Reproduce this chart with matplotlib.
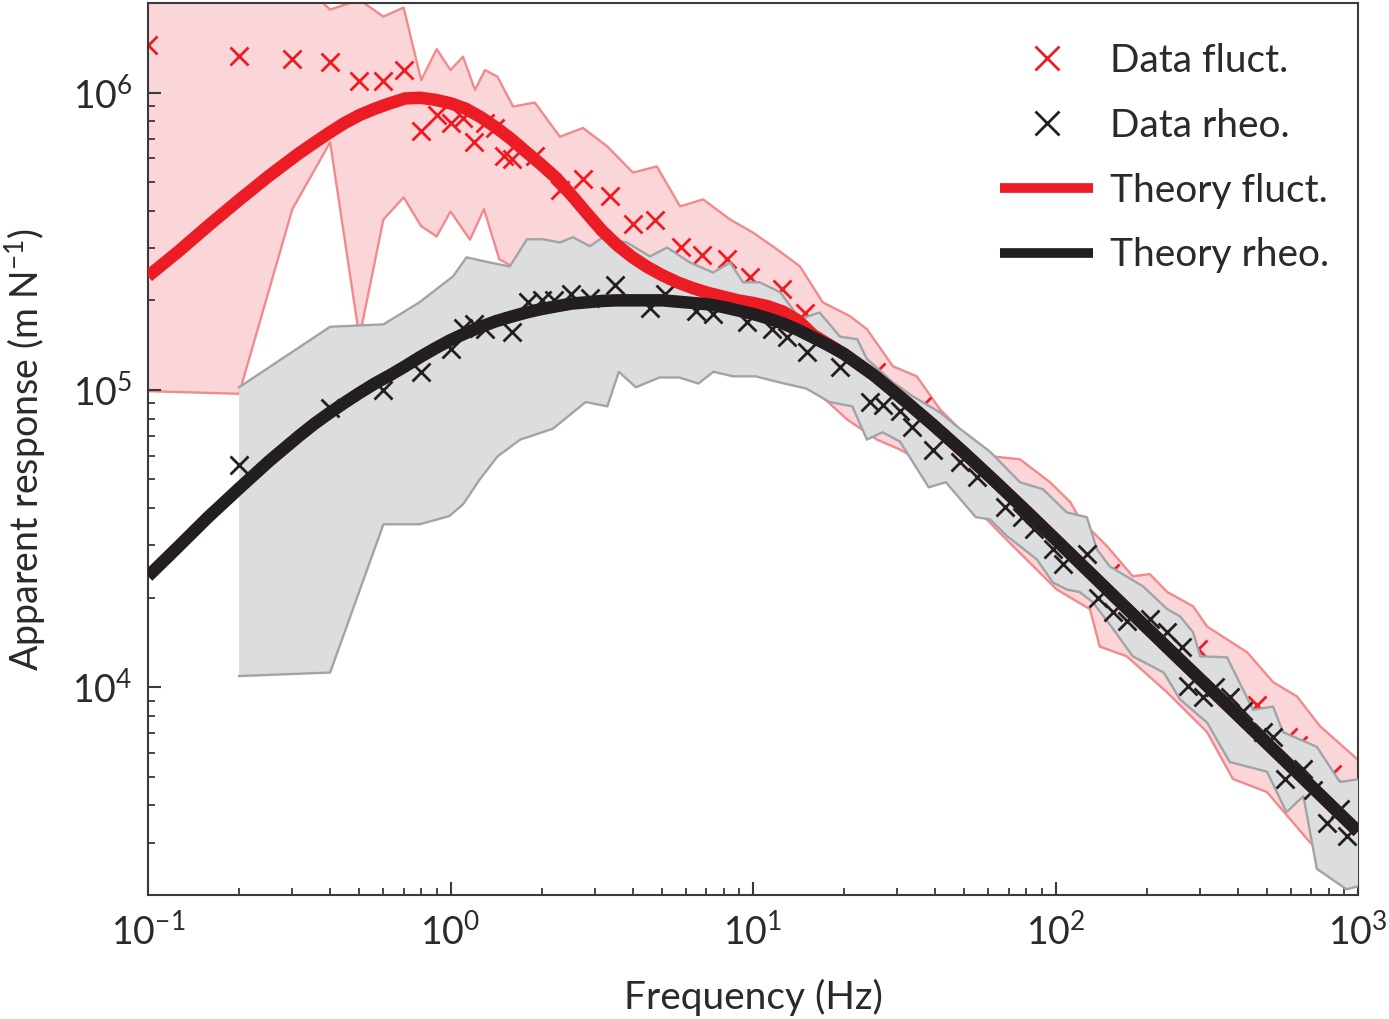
import matplotlib
matplotlib.use('Agg')
import matplotlib.pyplot as plt
import numpy as np
from matplotlib.lines import Line2D
from matplotlib.ticker import LogLocator, NullFormatter

plt.rcParams['font.family'] = ['Lato', 'DejaVu Sans']
plt.rcParams['mathtext.fontset'] = 'custom'
plt.rcParams['mathtext.rm'] = 'Lato'
plt.rcParams['mathtext.it'] = 'Lato:italic'
plt.rcParams['mathtext.bf'] = 'Lato:bold'
plt.rcParams['mathtext.sf'] = 'Lato'

# ---------------- data ----------------
fluct_freq = [0.1, 0.2, 0.3, 0.4, 0.5, 0.6, 0.7, 0.8, 0.9, 1.0,
              1.1, 1.2, 1.3, 1.4, 1.5, 1.6, 1.9, 2.3, 2.74, 3.37,
              4.0, 4.74, 5.8, 6.8, 8.2, 9.8, 12.5, 14.9, 25.5, 36.2,
              75, 151, 296, 332, 464, 587, 634, 820]
fluct_resp = [1.45e6, 1.33e6, 1.30e6, 1.27e6, 1.09e6, 1.09e6, 1.19e6, 7.4e5, 8.4e5, 7.9e5,
              8.2e5, 6.8e5, 7.9e5, 7.6e5, 6.1e5, 5.96e5, 6.1e5, 4.7e5, 5.1e5, 4.47e5,
              3.6e5, 3.74e5, 3.03e5, 2.85e5, 2.75e5, 2.39e5, 2.18e5, 1.82e5, 1.15e5, 8.8e4,
              4.5e4, 2.42e4, 1.34e4, 1.18e4, 8.7e3, 6.8e3, 6.4e3, 5.1e3]

rheo_freq = [0.2, 0.4, 0.6, 0.8, 1.0, 1.1, 1.2, 1.3, 1.6, 1.8,
             2.0, 2.2, 2.5, 2.9, 3.5, 4.57, 5.1, 6.5, 7.4, 9.55,
             11.6, 13, 15.1, 19.4, 24.4, 26.8, 30.6, 33.6, 39.4, 48.3,
             55, 68, 77.5, 85, 98, 106, 127, 138, 155, 172,
             205, 234, 262, 274, 307, 337, 378, 417, 486, 524,
             574, 658, 710, 790, 871, 920]
rheo_resp = [5.6e4, 8.7e4, 1.0e5, 1.15e5, 1.37e5, 1.62e5, 1.66e5, 1.6e5, 1.57e5, 1.97e5,
             2.0e5, 2.0e5, 2.1e5, 2.03e5, 2.26e5, 1.89e5, 2.1e5, 1.84e5, 1.8e5, 1.69e5,
             1.6e5, 1.51e5, 1.34e5, 1.19e5, 9.1e4, 8.9e4, 8.5e4, 7.5e4, 6.3e4, 5.7e4,
             5.1e4, 4.03e4, 3.73e4, 3.4e4, 2.91e4, 2.59e4, 2.8e4, 2.0e4, 1.79e4, 1.67e4,
             1.69e4, 1.53e4, 1.36e4, 1.01e4, 9.3e3, 1.0e4, 9.3e3, 8.3e3, 7.06e3, 6.8e3,
             4.9e3, 5.3e3, 4.5e3, 3.5e3, 3.9e3, 3.15e3]

theory_freq = [0.1, 0.126, 0.158, 0.2, 0.251, 0.316, 0.355, 0.398, 0.447, 0.501,
               0.562, 0.631, 0.708, 0.794, 0.891, 1.0, 1.12, 1.26, 1.41, 1.58,
               1.78, 2.0, 2.24, 2.51, 2.82, 3.16, 3.55, 3.98, 4.47, 5.01,
               5.62, 6.31, 7.08, 7.94, 8.91, 10.0, 11.2, 12.6, 14.1, 15.8,
               17.8, 20.0, 25.1, 31.6, 39.8, 50.1, 63.1, 79.4, 100, 158,
               251, 398, 631, 1000]
theory_fluct = [2.41e5, 2.92e5, 3.56e5, 4.35e5, 5.24e5, 6.25e5, 6.78e5, 7.33e5, 7.90e5, 8.40e5,
                8.82e5, 9.20e5, 9.55e5, 9.60e5, 9.45e5, 9.20e5, 8.83e5, 8.26e5, 7.64e5, 7.00e5,
                6.31e5, 5.71e5, 5.15e5, 4.52e5, 3.93e5, 3.44e5, 3.07e5, 2.80e5, 2.59e5, 2.43e5,
                2.30e5, 2.20e5, 2.12e5, 2.06e5, 2.00e5, 1.96e5, 1.91e5, 1.83e5, 1.71e5, 1.53e5,
                1.42e5, 1.32e5, 1.12e5, 9.23e4, 7.55e4, 6.12e4, 4.92e4, 3.94e4, 3.14e4, 2.00e4,
                1.27e4, 8.09e3, 5.15e3, 3.27e3]
theory_rheo = [2.36e4, 2.97e4, 3.73e4, 4.66e4, 5.75e4, 7.00e4, 7.69e4, 8.36e4, 9.06e4, 9.77e4,
               1.05e5, 1.12e5, 1.20e5, 1.29e5, 1.38e5, 1.47e5, 1.55e5, 1.63e5, 1.70e5, 1.76e5,
               1.82e5, 1.87e5, 1.91e5, 1.95e5, 1.97e5, 1.99e5, 2.00e5, 2.00e5, 2.00e5, 2.00e5,
               1.98e5, 1.96e5, 1.94e5, 1.90e5, 1.85e5, 1.80e5, 1.74e5, 1.67e5, 1.59e5, 1.50e5,
               1.41e5, 1.32e5, 1.12e5, 9.23e4, 7.55e4, 6.12e4, 4.92e4, 3.94e4, 3.14e4, 2.00e4,
               1.27e4, 8.09e3, 5.15e3, 3.27e3]

fluct_hi_freq = [0.1, 0.2, 0.3, 0.4, 0.5, 0.6, 0.7, 0.8, 0.9, 1.0,
                 1.10, 1.205, 1.30, 1.43, 1.61, 1.90, 2.30, 2.74, 3.29, 4.01,
                 4.81, 5.74, 6.84, 8.4, 10.0, 12.0, 14.3, 17.0, 20.9, 23.8,
                 29.0, 34.8, 41.5, 50.9, 62.1, 76.3, 95.9, 112, 120.5, 148,
                 180, 205, 234, 285, 317, 430, 524, 629, 748, 1000]
fluct_hi = [3e6, 3e6, 2.5e6, 1.9e6, 2.05e6, 1.8e6, 1.93e6, 1.1e6, 1.4e6, 1.19e6,
            1.32e6, 1.02e6, 1.19e6, 1.13e6, 8.97e5, 9.25e5, 7.1e5, 7.6e5, 6.6e5, 5.38e5,
            5.64e5, 4.14e5, 4.37e5, 3.74e5, 3.38e5, 2.97e5, 2.60e5, 1.97e5, 1.77e5, 1.60e5,
            1.20e5, 1.11e5, 8.6e4, 6.98e4, 5.97e4, 5.84e4, 4.89e4, 4.19e4, 3.67e4, 2.98e4,
            2.36e4, 2.40e4, 2.09e4, 1.87e4, 1.60e4, 1.31e4, 1.04e4, 9.3e3, 7.4e3, 5.7e3]

fluct_lo_freq = [0.1, 0.2, 0.3, 0.4, 0.5, 0.6, 0.7, 0.8, 0.9, 1.0,
                 1.16, 1.29, 1.45, 1.6, 2.0, 3.0, 5.0, 8.0, 12, 16,
                 20.5, 25.7, 30.6, 41.5, 72.4, 101, 130, 140, 172, 234,
                 317, 386, 500, 693, 1000]
fluct_lo = [9.9e4, 9.7e4, 4.05e5, 6.8e5, 1.5e5, 3.74e5, 4.44e5, 3.55e5, 3.28e5, 3.98e5,
            3.2e5, 4.05e5, 2.75e5, 2.6e5, 2.2e5, 1.9e5, 1.7e5, 1.5e5, 1.3e5, 1.0e5,
            7.94e4, 6.8e4, 6.3e4, 5.3e4, 2.98e4, 2.13e4, 1.83e4, 1.37e4, 1.27e4, 9.6e3,
            7.06e3, 4.91e3, 4.44e3, 3.01e3, 2.26e3]

rheo_hi_freq = [0.2, 0.4, 0.6, 0.79, 1.02, 1.13, 1.35, 1.57, 1.79, 2.02,
                2.30, 2.54, 2.89, 3.19, 3.83, 4.57, 5.20, 6.19, 7.38, 8.40,
                9.27, 10.5, 12.3, 14.3, 16.6, 19.4, 22.1, 23.8, 29.0, 33.8,
                41.5, 48.3, 60.7, 76.3, 90.9, 109, 127, 137, 151, 195,
                234, 258, 285, 301, 369, 450, 524, 565, 731, 871, 1000]
rheo_hi = [1.02e5, 1.63e5, 1.66e5, 1.97e5, 2.41e5, 2.79e5, 2.68e5, 2.60e5, 3.21e5, 3.21e5,
           3.13e5, 3.26e5, 3.04e5, 3.26e5, 3.13e5, 2.81e5, 3.01e5, 2.68e5, 2.48e5, 2.68e5,
           2.30e5, 2.30e5, 2.13e5, 1.73e5, 1.82e5, 1.51e5, 1.48e5, 1.27e5, 1.06e5, 9.5e4,
           8.4e4, 7.4e4, 6.2e4, 4.89e4, 4.63e4, 3.87e4, 3.73e4, 2.91e4, 2.55e4, 2.18e4,
           1.83e4, 1.73e4, 1.53e4, 1.27e4, 1.26e4, 8.4e3, 8.6e3, 7.06e3, 6.3e3, 4.8e3, 4.9e3]

rheo_lo_freq = [0.2, 0.4, 0.6, 0.79, 0.99, 1.10, 1.25, 1.43, 1.70, 2.18,
                2.8, 3.3, 3.6, 4.1, 4.9, 5.7, 6.6, 7.4, 8.6, 10.2,
                12.2, 15.0, 17.9, 21.3, 23.8, 26.8, 30.6, 38.1, 43.4, 54.5,
                60.7, 69.2, 76.3, 86.8, 98, 109, 120, 133, 155, 180,
                228, 258, 317, 377, 500, 580, 660, 731, 916, 1000]
rheo_lo = [1.09e4, 1.12e4, 3.53e4, 3.53e4, 3.76e4, 4.12e4, 5.0e4, 5.97e4, 6.8e4, 7.4e4,
           9.1e4, 8.8e4, 1.15e5, 1.02e5, 1.10e5, 1.10e5, 1.05e5, 1.15e5, 1.11e5, 1.11e5,
           1.06e5, 1.01e5, 9.1e4, 8.8e4, 6.8e4, 7.2e4, 6.7e4, 4.7e4, 4.89e4, 3.73e4,
           3.67e4, 3.22e4, 2.98e4, 2.69e4, 2.25e4, 2.13e4, 2.09e4, 1.93e4, 1.57e4, 1.27e4,
           1.12e4, 9.1e3, 7.6e3, 5.6e3, 5.2e3, 3.8e3, 4.3e3, 2.45e3, 2.09e3, 2.14e3]

legend_labels = ['Data fluct.', 'Data rheo.', 'Theory fluct.', 'Theory rheo.']

# ---------------- style ----------------
RED = '#ec1c24'
BLACK = '#231f20'
PINK_FILL = '#fad6d8'
PINK_EDGE = '#f28a8d'
GRAY_FILL = '#dcdddf'
GRAY_EDGE = '#a2a3a5'
SPINE = '#3a3a3a'
TEXT = '#2a2a2a'

fig = plt.figure(figsize=(13.89, 10.19), dpi=100)
ax = fig.add_axes([148 / 1389, 1 - 895 / 1019, 1210 / 1389, 892 / 1019])
ax.set_xscale('log')
ax.set_yscale('log')

# fluct band
ax.fill(np.r_[fluct_hi_freq, fluct_lo_freq[::-1]], np.r_[fluct_hi, fluct_lo[::-1]],
        color=PINK_FILL, lw=0, zorder=1)
ax.plot(fluct_hi_freq, fluct_hi, color=PINK_EDGE, lw=1.7, zorder=1.1)
ax.plot(fluct_lo_freq, fluct_lo, color=PINK_EDGE, lw=1.7, zorder=1.1)
ax.plot(fluct_freq, fluct_resp, ls='none', marker='x', color=RED, ms=12.5, mew=2.0, zorder=2)

# rheo band
ax.fill(np.r_[rheo_hi_freq, rheo_lo_freq[::-1]], np.r_[rheo_hi, rheo_lo[::-1]],
        color=GRAY_FILL, lw=0, zorder=3)
ax.plot(rheo_hi_freq, rheo_hi, color=GRAY_EDGE, lw=1.7, zorder=3.1)
ax.plot(rheo_lo_freq, rheo_lo, color=GRAY_EDGE, lw=1.7, zorder=3.1)
ax.plot(rheo_freq, rheo_resp, ls='none', marker='x', color=BLACK, ms=12.5, mew=2.0, zorder=4)

# theory
ax.plot(theory_freq, theory_fluct, color=RED, lw=9, solid_capstyle='butt',
        solid_joinstyle='round', zorder=5)
ax.plot(theory_freq, theory_rheo, color=BLACK, lw=9, solid_capstyle='butt',
        solid_joinstyle='round', zorder=6)

ax.set_xlim(0.1, 1000)
ax.set_ylim(2.0e3, 2.0e6)

for s in ax.spines.values():
    s.set_color(SPINE)
    s.set_linewidth(1.5)

ax.xaxis.set_major_locator(LogLocator(base=10, numticks=10))
ax.xaxis.set_minor_locator(LogLocator(base=10, subs=np.arange(2, 10), numticks=20))
ax.yaxis.set_major_locator(LogLocator(base=10, numticks=10))
ax.yaxis.set_minor_locator(LogLocator(base=10, subs=np.arange(2, 10), numticks=20))
ax.xaxis.set_minor_formatter(NullFormatter())
ax.yaxis.set_minor_formatter(NullFormatter())
ax.tick_params(which='both', direction='in', top=False, right=False, color=SPINE)
ax.tick_params(which='major', length=9.5, width=1.5, labelsize=27, labelcolor=TEXT)
ax.tick_params(which='minor', length=5, width=1.3)
ax.tick_params(axis='x', which='major', pad=13)
ax.tick_params(axis='y', which='major', pad=11)

ax.set_xlabel('Frequency (Hz)', fontsize=28, color=TEXT)
ax.set_ylabel('Apparent response (m N$^{-1}$)', fontsize=27, color=TEXT)
ax.xaxis.set_label_coords(0.5, -0.094)
ax.yaxis.set_label_coords(-0.083, 0.5)

handles = [
    Line2D([], [], ls='none', marker='x', color=RED, ms=17, mew=2.0),
    Line2D([], [], ls='none', marker='x', color=BLACK, ms=17, mew=2.0),
    Line2D([], [], color=RED, lw=7, solid_capstyle='butt'),
    Line2D([], [], color=BLACK, lw=7, solid_capstyle='butt'),
]
leg = ax.legend(handles, legend_labels, loc='upper left',
                bbox_to_anchor=((1000 - 148) / 1210, (895 - 43) / 892),
                frameon=False, fontsize=28, handlelength=2.4, handletextpad=0.42,
                labelspacing=0.74, borderpad=0, borderaxespad=0)
for t in leg.get_texts():
    t.set_color(TEXT)

fig.savefig('out.png', dpi=100)
